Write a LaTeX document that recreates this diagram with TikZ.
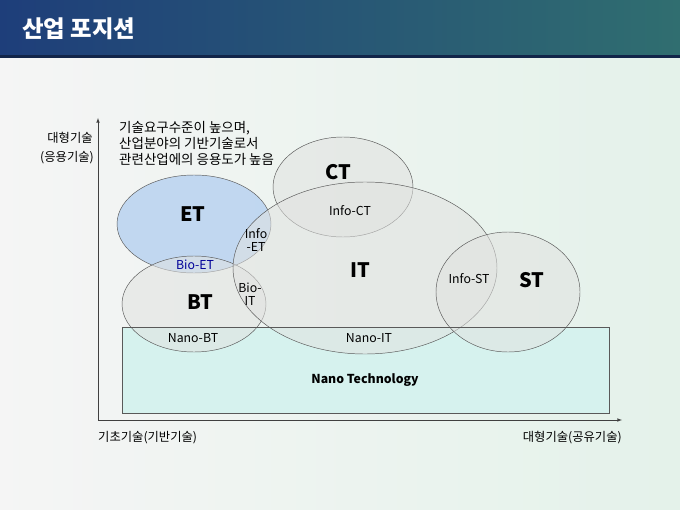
\documentclass[tikz,border=0pt]{standalone}
\usepackage{fontspec}
\setmainfont{Noto Sans CJK KR}
\usepackage{tikz}
\usetikzlibrary{positioning}
\definecolor{barblue}{RGB}{30,62,122}
\definecolor{barteal}{RGB}{48,110,112}
\definecolor{etblue}{RGB}{188,212,240}
\definecolor{nanocyan}{RGB}{214,242,238}
\definecolor{ringgray}{RGB}{225,226,224}
\tikzset{
  ring/.style={draw=black!65,thin,fill=ringgray,fill opacity=0.55},
  tag/.style={font=\fontsize{10.5}{11}\selectfont,text=black,align=center,inner sep=0pt},
  bigtag/.style={font=\fontsize{17}{19}\selectfont\bfseries,text=black,inner sep=0pt},
  axlabel/.style={font=\fontsize{10.5}{12}\selectfont,text=black,inner sep=0pt}
}
\begin{document}
\begin{tikzpicture}[x=0.03cm,y=-0.03cm]
\useasboundingbox (0,0) rectangle (680,510);
% background and title bar
\shade[left color=black!4,right color={rgb,255:red,228;green,242;blue,234}] (0,0) rectangle (680,510);
\shade[left color=barblue,right color=barteal] (0,0) rectangle (680,57);
\fill[barblue!60!black] (0,55) rectangle (680,58);
\node[font=\fontsize{20}{24}\selectfont\bfseries,text=white,anchor=west] (title) at (18,29) {산업 포지션};

% axes
\coordinate (origin) at (98,420);
\coordinate (ytop) at (98,118);
\coordinate (xend) at (622,420);
\draw[black!75,thin,-latex] (origin) -- (ytop);
\draw[black!75,thin,-latex] (origin) -- (xend);
\node[axlabel] (ylab1) at (70,138) {대형기술};
\node[axlabel] (ylab2) at (67,158) {(응용기술)};
\node[axlabel,anchor=west] (xlab1) at (98,438) {기초기술(기반기술)};
\node[axlabel,anchor=east] (xlab2) at (622,438) {대형기술(공유기술)};
\node[axlabel,anchor=north west,align=left,font=\fontsize{11.5}{13.8}\selectfont] (note) at (119,121) {기술요구수준이 높으며,\\산업분야의 기반기술로서\\관련산업에의 응용도가 높음};

% nano technology band
\draw[black!65,thin,fill=nanocyan] (122,327) rectangle (609,413);

% technology fields
\draw[ring] (343,187) ellipse [x radius=70,y radius=50];
\draw[ring,fill=etblue,fill opacity=0.9] (194,224) ellipse [x radius=77,y radius=49];
\draw[ring] (194,304) ellipse [x radius=72,y radius=48];
\draw[ring] (365,268) ellipse [x radius=132,y radius=86];
\draw[ring] (508,292) ellipse [x radius=72,y radius=60];
\draw[black!65,thin] (122,327) -- (609,327);

% labels
\node[bigtag] (et) at (193,214) {ET};
\node[bigtag] (bt) at (200,302) {BT};
\node[bigtag] (ct) at (338,172) {CT};
\node[bigtag] (it) at (360,270) {IT};
\node[bigtag] (st) at (532,280) {ST};
\node[tag,text=blue!60!black] (bioet) at (195,265) {Bio-ET};
\node[tag] (infoet) at (256,240) {Info\\-ET};
\node[tag] (bioit) at (250,294) {Bio-\\IT};
\node[tag] (infoct) at (350,211) {Info-CT};
\node[tag] (infost) at (469,279) {Info-ST};
\node[tag] (nanobt) at (193,338) {Nano-BT};
\node[tag] (nanoit) at (369,338) {Nano-IT};
\node[tag,font=\fontsize{10.5}{12}\selectfont\bfseries] (nano) at (365,380) {Nano Technology};
\end{tikzpicture}
\end{document}
